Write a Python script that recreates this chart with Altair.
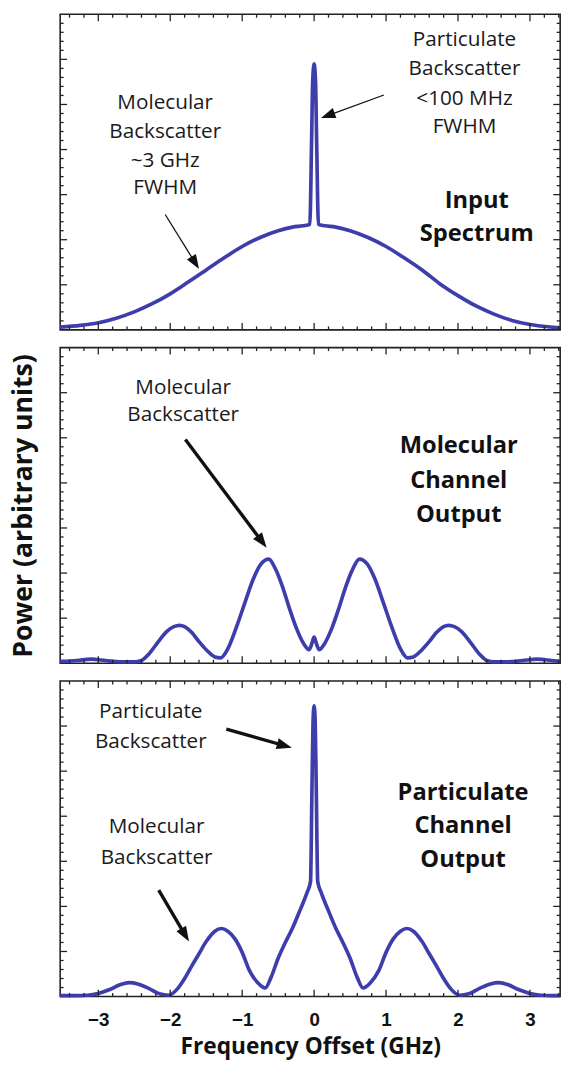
import math
import altair as alt
import pandas as pd

# ---------------- data ----------------
TOP_X = [-3.53, -3.25, -3.0, -2.75, -2.5, -2.25, -2.0, -1.75, -1.5, -1.25,
         -1.0, -0.75, -0.5, -0.3, -0.15, -0.06, -0.035, -0.02, 0.0, 0.02,
         0.035, 0.06, 0.15, 0.3, 0.5, 0.75, 1.0, 1.25, 1.5, 1.75,
         2.0, 2.25, 2.5, 2.75, 3.0, 3.25, 3.42]
TOP_Y = [0.06, 0.10, 0.16, 0.26, 0.40, 0.58, 0.80, 1.06, 1.33, 1.60,
         1.85, 2.05, 2.20, 2.28, 2.31, 2.34, 4.2, 5.5, 5.9, 5.5,
         4.2, 2.34, 2.31, 2.28, 2.20, 2.05, 1.85, 1.60, 1.33, 1.02,
         0.76, 0.53, 0.35, 0.21, 0.12, 0.07, 0.05]

MID_X = [-3.53, -3.3, -3.1, -2.9, -2.7, -2.5, -2.4, -2.3, -2.17, -2.05,
         -1.95, -1.87, -1.8, -1.7, -1.6, -1.5, -1.38, -1.3, -1.2, -1.08,
         -0.95, -0.85, -0.74, -0.63, -0.54, -0.44, -0.34, -0.24, -0.14, -0.07,
         -0.035, 0.0, 0.035, 0.07, 0.14, 0.24, 0.34, 0.44, 0.54, 0.63,
         0.74, 0.85, 0.95, 1.08, 1.2, 1.3, 1.38, 1.5, 1.6, 1.7,
         1.8, 1.87, 1.95, 2.05, 2.17, 2.3, 2.4, 2.5, 2.7, 2.9,
         3.1, 3.3, 3.42]
MID_Y = [0.04, 0.06, 0.09, 0.06, 0.03, 0.03, 0.06, 0.2, 0.47, 0.7,
         0.81, 0.84, 0.81, 0.68, 0.48, 0.3, 0.14, 0.12, 0.32, 0.8,
         1.4, 1.85, 2.2, 2.31, 2.1, 1.7, 1.2, 0.75, 0.42, 0.30,
         0.42, 0.58, 0.42, 0.30, 0.42, 0.75, 1.2, 1.7, 2.1, 2.31,
         2.2, 1.85, 1.4, 0.8, 0.32, 0.12, 0.14, 0.3, 0.48, 0.68,
         0.81, 0.84, 0.81, 0.7, 0.47, 0.2, 0.06, 0.03, 0.03, 0.06,
         0.09, 0.06, 0.04]

BOT_X = [-3.53, -3.3, -3.15, -3.0, -2.85, -2.7, -2.57, -2.45, -2.3, -2.15,
         -2.02, -1.9, -1.8, -1.7, -1.6, -1.5, -1.38, -1.29, -1.2, -1.1,
         -1.0, -0.9, -0.78, -0.68, -0.6, -0.5, -0.4, -0.3, -0.2, -0.1,
         -0.05, -0.03, -0.015, 0.0, 0.015, 0.03, 0.05, 0.1, 0.2, 0.3,
         0.4, 0.5, 0.6, 0.68, 0.78, 0.9, 1.0, 1.1, 1.2, 1.29,
         1.38, 1.5, 1.6, 1.7, 1.8, 1.9, 2.02, 2.15, 2.3, 2.45,
         2.57, 2.7, 2.85, 3.0, 3.15, 3.3, 3.42]
BOT_Y = [0.02, 0.02, 0.03, 0.07, 0.15, 0.26, 0.31, 0.28, 0.18, 0.06,
         0.03, 0.17, 0.4, 0.68, 0.95, 1.22, 1.45, 1.51, 1.45, 1.28,
         0.98, 0.58, 0.3, 0.19, 0.42, 0.85, 1.2, 1.52, 1.9, 2.3,
         2.55, 4.6, 6.1, 6.45, 6.1, 4.6, 2.55, 2.3, 1.9, 1.52,
         1.2, 0.85, 0.42, 0.19, 0.3, 0.58, 0.98, 1.28, 1.45, 1.51,
         1.45, 1.22, 0.95, 0.68, 0.4, 0.17, 0.03, 0.06, 0.18, 0.28,
         0.31, 0.26, 0.15, 0.07, 0.03, 0.02, 0.02]

X_TICK_LABELS = [-3, -2, -1, 0, 1, 2, 3]
X_MINOR = [round(-3.4 + 0.2 * i, 1) for i in range(35)]
X_MINOR = [v for v in X_MINOR if v not in X_TICK_LABELS]
Y_MAJOR = [1, 2, 3, 4, 5, 6]
Y_MINOR = [round(0.2 * i, 1) for i in range(1, 35) if i % 5 != 0]

# annotations (data coordinates)
TOP_NOTES = [("Molecular", -2.07, 5.03), ("Backscatter", -2.07, 4.39),
             ("~3 GHz", -2.07, 3.75), ("FWHM", -2.07, 3.14),
             ("Particulate", 2.09, 6.43), ("Backscatter", 2.09, 5.79),
             ("<100 MHz", 2.09, 5.12), ("FWHM", 2.09, 4.50)]
TOP_BOLD = [("Input", 2.26, 2.85), ("Spectrum", 2.26, 2.12)]
TOP_ARROWS = [(-2.07, 2.56, -1.60, 1.35), (0.97, 5.21, 0.096, 4.70)]

MID_NOTES = [("Molecular", -1.82, 6.11), ("Backscatter", -1.82, 5.50)]
MID_BOLD = [("Molecular", 2.01, 4.81), ("Channel", 2.01, 4.03), ("Output", 2.01, 3.29)]
MID_ARROWS = [(-1.79, 4.96, -0.66, 2.56)]

BOT_NOTES = [("Particulate", -2.27, 6.32), ("Backscatter", -2.27, 5.65),
             ("Molecular", -2.19, 3.77), ("Backscatter", -2.19, 3.07)]
BOT_BOLD = [("Particulate", 2.07, 4.51), ("Channel", 2.07, 3.77), ("Output", 2.07, 3.03)]
BOT_ARROWS = [(-1.22, 5.93, -0.31, 5.52), (-2.16, 2.36, -1.74, 1.22)]

# ---------------- layout / style ----------------
W, H = 507, 320
XDOM = [-3.53, 3.42]
YDOM = [0, 7]
KX = W / (XDOM[1] - XDOM[0])
KY = H / (YDOM[1] - YDOM[0])
LINE_COLOR = "#3d3dab"
FONT = "Open Sans"
INK = "#1a1a1a"
XTITLE = "Frequency Offset (GHz)"
YTITLE = "Power (arbitrary units)"

xs = alt.Scale(domain=XDOM, nice=False, zero=False)
ys = alt.Scale(domain=YDOM, nice=False, zero=False)
HEAD = "M0,0L-0.55,1.5L0.55,1.5Z"


def X(field, ax):
    return alt.X(field, scale=xs, axis=ax, title=XTITLE)


def Y(field, ax):
    return alt.Y(field, scale=ys, axis=ax, title=YTITLE)


def tick_layers(xa, ya):
    layers = []
    for vals, ln in ((X_TICK_LABELS, 7), (X_MINOR, 3.5)):
        base = alt.Chart(pd.DataFrame({"t": vals})).mark_rule(color="#222", strokeWidth=1.3)
        xe = X("t:Q", xa)
        layers.append(base.encode(x=xe, y=alt.value(H), y2=alt.value(H - ln)))
        layers.append(base.encode(x=xe, y=alt.value(0), y2=alt.value(ln)))
    for vals, ln in ((Y_MAJOR, 7), (Y_MINOR, 3.5)):
        base = alt.Chart(pd.DataFrame({"t": vals})).mark_rule(color="#222", strokeWidth=1.3)
        ye = Y("t:Q", ya)
        layers.append(base.encode(y=ye, x=alt.value(0), x2=alt.value(ln)))
        layers.append(base.encode(y=ye, x=alt.value(W), x2=alt.value(W - ln)))
    return layers


def text_layer(notes, bold, xa, ya):
    df = pd.DataFrame(notes, columns=["txt", "x", "y"])
    return alt.Chart(df).mark_text(
        font=FONT, fontSize=24 if bold else 21, fontWeight="bold" if bold else "normal",
        color="#111" if bold else INK, align="center", baseline="middle"
    ).encode(x=X("x:Q", xa), y=Y("y:Q", ya), text="txt:N")


def arrow_layers(arrows, width, head_size, xa, ya):
    rows = []
    back = math.sqrt(head_size) / 2 * 0.8
    for x0, y0, x1, y1 in arrows:
        dxp, dyp = (x1 - x0) * KX, (y1 - y0) * KY
        L = math.hypot(dxp, dyp)
        ang = math.degrees(math.atan2(dxp, dyp)) % 360
        ex = x1 - (dxp / L) * back / KX
        ey = y1 - (dyp / L) * back / KY
        rows.append({"x0": x0, "y0": y0, "ex": ex, "ey": ey, "x1": x1, "y1": y1, "ang": ang})
    df = pd.DataFrame(rows)
    line = alt.Chart(df).mark_rule(color="#111", strokeWidth=width).encode(
        x=X("x0:Q", xa), y=Y("y0:Q", ya), x2="ex:Q", y2="ey:Q")
    head = alt.Chart(df).mark_point(shape=HEAD, filled=True, color="#111", opacity=1,
                                    size=head_size, strokeWidth=0).encode(
        x=X("x1:Q", xa), y=Y("y1:Q", ya), angle=alt.Angle("ang:Q", scale=None))
    return [line, head]


def panel(xv, yv, notes, bold, arrows, aw, hs, xa=None, ya=None):
    df = pd.DataFrame({"f": xv, "p": yv})
    line = alt.Chart(df).mark_line(color=LINE_COLOR, strokeWidth=3.7, interpolate="monotone").encode(
        x=X("f:Q", xa), y=Y("p:Q", ya))
    layers = [line] + tick_layers(xa, ya) + [text_layer(notes, False, xa, ya),
                                             text_layer(bold, True, xa, ya)] \
        + arrow_layers(arrows, aw, hs, xa, ya)
    return alt.layer(*layers).properties(width=W, height=H)


x_axis = alt.Axis(values=X_TICK_LABELS, format="d", ticks=False, domain=False, grid=False,
                  labelFont="Liberation Sans", labelFontWeight="bold", labelFontSize=19,
                  labelColor="#111", labelPadding=14,
                  titleFont=FONT, titleFontWeight="bold", titleFontSize=23,
                  titleColor="#111", titlePadding=7)
y_axis = alt.Axis(labels=False, ticks=False, domain=False, grid=False,
                  titleFont=FONT, titleFontWeight="bold", titleFontSize=27,
                  titleColor="#111", titlePadding=23)

top = panel(TOP_X, TOP_Y, TOP_NOTES, TOP_BOLD, TOP_ARROWS, 1.3, 380)
mid = panel(MID_X, MID_Y, MID_NOTES, MID_BOLD, MID_ARROWS, 3.4, 420, ya=y_axis)
bot = panel(BOT_X, BOT_Y, BOT_NOTES, BOT_BOLD, BOT_ARROWS, 3.4, 420, xa=x_axis)

chart = alt.vconcat(top, mid, bot, spacing=18, bounds="flush").properties(
    padding={"left": 9, "top": 5, "right": 3, "bottom": 5},
    background="white",
).configure_view(stroke="#222", strokeWidth=1.6).configure_axis(grid=False)

chart.save("out.html", embed_options={"renderer": "svg", "actions": False})
